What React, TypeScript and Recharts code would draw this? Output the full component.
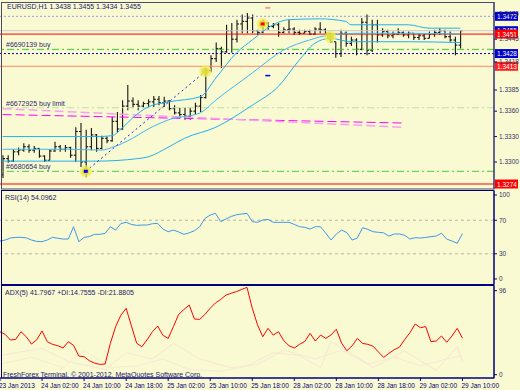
import React from "react";
import { ComposedChart, Bar, Line, Scatter, XAxis, YAxis, ReferenceLine } from "recharts";

// EURUSD H1, 23 Jan 18:00 .. 29 Jan 10:00
const highs = [
  1.3308, 1.3308, 1.3315, 1.3317, 1.3322, 1.3321, 1.3319, 1.3316, 1.3308, 1.3315,
  1.3324, 1.332, 1.332, 1.3318, 1.3341, 1.3346, 1.3338, 1.334, 1.3333, 1.3331,
  1.333, 1.3353, 1.3359, 1.3373, 1.3391, 1.3376, 1.3373, 1.3371, 1.3374, 1.3378,
  1.3378, 1.3377, 1.3373, 1.3367, 1.3364, 1.3364, 1.3364, 1.337, 1.3379, 1.3411,
  1.3426, 1.3441, 1.3436, 1.3462, 1.3464, 1.3468, 1.3474, 1.3476, 1.3474, 1.3456,
  1.3468, 1.3465, 1.3464, 1.3464, 1.3459, 1.3468, 1.3459, 1.3456, 1.3456, 1.3456,
  1.3459, 1.3465, 1.3458, 1.3452, 1.3442, 1.3456, 1.3454, 1.3448, 1.3446, 1.347,
  1.3474, 1.3468, 1.3468, 1.3458, 1.3456, 1.3454, 1.3458, 1.3454, 1.3454, 1.3452,
  1.3452, 1.3452, 1.3454, 1.3456, 1.3458, 1.3456, 1.3454, 1.3448, 1.3455,
];
const lows = [
  1.3281, 1.3299, 1.33, 1.3308, 1.3312, 1.3311, 1.3311, 1.3305, 1.33, 1.3302,
  1.3312, 1.3312, 1.3312, 1.3305, 1.33, 1.3294, 1.3282, 1.3314, 1.3312, 1.3315,
  1.3322, 1.3324, 1.3335, 1.3338, 1.3361, 1.3364, 1.3361, 1.3364, 1.3364, 1.3365,
  1.3367, 1.3365, 1.3361, 1.3356, 1.3352, 1.335, 1.335, 1.3356, 1.3359, 1.3375,
  1.3406, 1.3418, 1.3411, 1.3429, 1.3429, 1.3441, 1.3452, 1.3452, 1.3452, 1.345,
  1.3452, 1.3456, 1.3458, 1.3448, 1.3452, 1.3452, 1.345, 1.345, 1.3452, 1.345,
  1.345, 1.3452, 1.345, 1.3441, 1.3423, 1.3424, 1.3436, 1.3437, 1.3426, 1.3432,
  1.3426, 1.343, 1.3441, 1.3448, 1.3446, 1.3446, 1.345, 1.3448, 1.3446, 1.3444,
  1.3444, 1.3444, 1.3446, 1.3448, 1.345, 1.3446, 1.3442, 1.3426, 1.3434,
];
const opens = [
  1.3285, 1.3304, 1.3301, 1.3312, 1.3314, 1.3318, 1.3314, 1.3316, 1.3307, 1.3302,
  1.3313, 1.3318, 1.3315, 1.3317, 1.3308, 1.3336, 1.33, 1.3318, 1.3332, 1.3316,
  1.3328, 1.3325, 1.3348, 1.3339, 1.3366, 1.3372, 1.3368, 1.3366, 1.3369, 1.3371,
  1.3374, 1.337, 1.3372, 1.3363, 1.3358, 1.3356, 1.3354, 1.336, 1.3366, 1.3376,
  1.3408, 1.3422, 1.3434, 1.343, 1.3455, 1.3445, 1.3463, 1.3466, 1.347, 1.3455,
  1.3453, 1.3464, 1.346, 1.3462, 1.3453, 1.3456, 1.3457, 1.3453, 1.3452, 1.3454,
  1.3451, 1.3457, 1.3456, 1.3452, 1.3442, 1.3428, 1.3452, 1.344, 1.3444, 1.3433,
  1.3465, 1.3432, 1.3462, 1.345, 1.3454, 1.3449, 1.3451, 1.3453, 1.345, 1.3452,
  1.3447, 1.3449, 1.3446, 1.3451, 1.3453, 1.3455, 1.3448, 1.3444, 1.3438,
];
const closes = [
  1.3304, 1.3301, 1.3312, 1.3314, 1.3318, 1.3314, 1.3316, 1.3307, 1.3302, 1.3313,
  1.3318, 1.3315, 1.3317, 1.3308, 1.3336, 1.33, 1.3318, 1.3332, 1.3316, 1.3328,
  1.3325, 1.3348, 1.3339, 1.3366, 1.3372, 1.3368, 1.3366, 1.3369, 1.3371, 1.3374,
  1.337, 1.3372, 1.3363, 1.3358, 1.3356, 1.3354, 1.336, 1.3366, 1.3376, 1.3408,
  1.3422, 1.3434, 1.343, 1.3455, 1.3445, 1.3463, 1.3466, 1.347, 1.3455, 1.3453,
  1.3464, 1.346, 1.3462, 1.3453, 1.3456, 1.3457, 1.3453, 1.3452, 1.3454, 1.3451,
  1.3457, 1.3456, 1.3452, 1.3442, 1.3428, 1.3452, 1.344, 1.3444, 1.3433, 1.3465,
  1.3432, 1.3462, 1.345, 1.3454, 1.3449, 1.3451, 1.3453, 1.345, 1.3452, 1.3447,
  1.3449, 1.3446, 1.3451, 1.3453, 1.3455, 1.3448, 1.3444, 1.3438, 1.3455,
];

const rsi = [
  45.2, 46.4, 48.8, 49.6, 49.6, 49.0, 46.4, 44.8, 44.4, 46.5,
  49.6, 48.5, 47.6, 47.6, 62.3, 44.4, 49.6, 50.6, 53.2, 53.2,
  54.4, 62.3, 58.3, 66.0, 67.5, 65.0, 63.9, 64.2, 64.3, 65.8,
  66.3, 59.5, 56.3, 58.3, 56.0, 53.2, 55.0, 57.5, 62.3, 72.2,
  76.2, 78.2, 68.3, 71.5, 74.5, 76.5, 77.4, 78.2, 68.3, 67.5,
  70.2, 71.0, 67.5, 67.5, 67.5, 67.5, 65.0, 62.3, 61.5, 59.5,
  62.3, 62.3, 54.4, 46.4, 53.6, 58.3, 55.2, 46.4, 48.8, 61.1,
  59.1, 56.3, 55.6, 55.0, 51.2, 53.6, 53.6, 52.0, 47.6, 49.2,
  48.8, 49.5, 50.4, 51.2, 54.4, 47.6, 45.2, 42.5, 54.1,
];

const adx = [
  49.1, 46.0, 39.6, 40.4, 49.1, 43.4, 35.0, 40.0, 50.0, 37.7,
  34.7, 33.1, 30.5, 37.7, 33.5, 21.3, 20.6, 16.0, 13.2, 11.8,
  12.2, 35.8, 54.9, 68.0, 75.8, 56.0, 36.0, 32.0, 40.0, 49.1,
  55.6, 45.0, 41.5, 55.0, 69.0, 74.5, 79.6, 63.6, 63.2, 69.0,
  76.0, 82.0, 86.0, 91.0, 93.0, 95.0, 97.5, 99.8, 76.0, 57.0,
  43.4, 53.0, 45.3, 49.1, 38.9, 33.1, 30.5, 34.7, 38.0, 47.2,
  38.5, 45.3, 41.5, 45.5, 52.0, 36.0, 27.4, 33.0, 41.5, 35.8,
  34.7, 32.5, 26.0, 19.8, 24.4, 28.5, 31.5, 40.0, 48.0, 57.9,
  53.7, 55.0, 37.7, 38.5, 44.2, 37.0, 44.2, 53.0, 41.8,
];

// indicator lines read at a few bars: [bar index, value]
const bandUpper: [number, number][] = [
  [0, 1.333], [18, 1.333], [21, 1.3331], [23, 1.334], [25, 1.3352], [28, 1.3365],
  [32, 1.3371], [38, 1.3377], [41, 1.3399], [45, 1.3429], [48, 1.3444], [52, 1.3462],
  [55, 1.3468], [61, 1.3469], [66, 1.3466], [67, 1.3462], [78, 1.3462], [82, 1.3458], [88, 1.3458],
];
const bandMiddle: [number, number][] = [
  [0, 1.3315], [13, 1.3315], [19, 1.3314], [21, 1.3317], [25, 1.3328], [28, 1.3339],
  [32, 1.335], [38, 1.3358], [41, 1.3373], [48, 1.3405], [54, 1.3432], [59, 1.3444],
  [63, 1.345], [69, 1.3452], [78, 1.3452], [88, 1.3451],
];
const bandLower: [number, number][] = [
  [0, 1.3301], [18, 1.3301], [26, 1.3304], [28, 1.3306], [32, 1.3318], [35, 1.3328],
  [41, 1.3341], [48, 1.3367], [53, 1.3389], [57, 1.342], [60, 1.344], [63, 1.3446],
  [67, 1.3442], [78, 1.3442], [88, 1.3441],
];
const plusDi: [number, number][] = [
  [0, 22], [8, 30], [13, 15], [20, 6], [24, 25], [29, 18], [33, 36], [38, 18], [44, 8],
  [47, 10], [52, 25], [57, 22], [61, 8], [63, 38], [68, 20], [71, 8], [77, 27], [83, 5],
  [87, 32], [88, 14.8],
];
const minusDi: [number, number][] = [
  [0, 12], [6, 20], [12, 8], [16, 28], [21, 8], [26, 10], [31, 18], [36, 6], [42, 4],
  [49, 12], [54, 28], [60, 18], [65, 28], [70, 12], [75, 20], [80, 10], [85, 18], [88, 21.9],
];
// order history line and the two pending-order trend lines
const orderPath: [number, number][] = [[16, 1.3289], [39, 1.3407]];
const magentaA: [number, number][] = [[0, 1.3356], [77, 1.3346]];
const magentaB: [number, number][] = [[0, 1.3363], [77, 1.3341]];
const orderMarks: [number, number][] = [[16, 1.3289], [39, 1.3407], [50, 1.3463], [63, 1.3448]];

const xLabels = [
  "23 Jan 2013", "24 Jan 02:00", "24 Jan 10:00", "24 Jan 18:00", "25 Jan 02:00", "25 Jan 10:00",
  "25 Jan 18:00", "28 Jan 02:00", "28 Jan 10:00", "28 Jan 18:00", "29 Jan 02:00", "29 Jan 10:00",
];
const priceTicks = [1.33, 1.333, 1.336, 1.3385, 1.3418, 1.3445, 1.3475];

const BG = "#FAFAD2";
const NAVY = "#000080";
const FONT = "'Liberation Sans', Arial, sans-serif";
const SLOTS = 95; // bars plus empty space on the right

const pick = (pts: [number, number][], i: number) => {
  const hit = pts.find((p) => p[0] === i);
  return hit ? hit[1] : null;
};

const rows = Array.from({ length: SLOTS }, (_, i) => {
  const has = i < closes.length;
  return {
    i,
    high: has ? highs[i] : null,
    low: has ? lows[i] : null,
    open: has ? opens[i] : null,
    close: has ? closes[i] : null,
    rsi: has ? rsi[i] : null,
    adx: has ? adx[i] : null,
    up: pick(bandUpper, i),
    mid: pick(bandMiddle, i),
    dn: pick(bandLower, i),
    pdi: pick(plusDi, i),
    mdi: pick(minusDi, i),
    path: pick(orderPath, i),
    magA: pick(magentaA, i),
    magB: pick(magentaB, i),
    mark: pick(orderMarks, i),
    redArrow: i === 50 ? 1.3463 : null,
    blueArrow: i === 16 ? 1.3289 : null,
    blueDash: i === 51 ? 1.3402 : null,
    pinkDash: i === 51 ? 1.3482 : null,
  };
});

function OhlcBar(props: any) {
  const { x, y, width, height, payload } = props;
  if (payload.high == null || height == null) return <g />;
  const top = Math.min(y, y + height);
  const h = Math.abs(height);
  const cx = x + width / 2;
  const span = payload.high - payload.low || 1;
  const py = (v: number) => top + ((payload.high - v) / span) * h;
  return (
    <g stroke="#141414" strokeWidth={1.1}>
      <line x1={cx} y1={top} x2={cx} y2={top + h} />
      <line x1={cx - 2} y1={py(payload.open)} x2={cx} y2={py(payload.open)} />
      <line x1={cx} y1={py(payload.close)} x2={cx + 2} y2={py(payload.close)} />
    </g>
  );
}

const dotShape = (draw: (cx: number, cy: number) => React.ReactElement) => (props: any) => {
  const { cx, cy } = props;
  if (cx == null || cy == null || isNaN(cy)) return <g />;
  return draw(cx, cy);
};

const priceTag = (value: number, color: string) => (props: any) => {
  const { viewBox } = props;
  const x = viewBox.x + viewBox.width + 1;
  const y = viewBox.y;
  return (
    <g>
      <rect x={x} y={y - 4.5} width={23} height={9} fill={color} />
      <text x={x + 2} y={y + 2.5} fill="#fff" fontSize={6.5} fontFamily={FONT}>
        {value.toFixed(4)}
      </text>
    </g>
  );
};

const orderLabel = (text: string) => (props: any) => {
  const { viewBox } = props;
  return (
    <text x={viewBox.x + 6} y={viewBox.y - 2} fill="#2a2a70" fontSize={7} fontFamily={FONT}>
      {text}
    </text>
  );
};

function XTick(props: any) {
  const { x, y, payload } = props;
  return (
    <text x={x - 1} y={y + 7} fill={NAVY} fontSize={6.5} fontFamily={FONT}>
      {xLabels[payload.value / 8]}
    </text>
  );
}

const rightAxis = {
  orientation: "right" as const,
  width: 26,
  axisLine: { stroke: NAVY },
  tickLine: { stroke: NAVY },
  tickSize: 3,
  tickMargin: 2,
  interval: 0 as const,
  allowDataOverflow: true,
  tick: { fontSize: 6.5, fill: "#333366", fontFamily: FONT },
};

export default function App() {
  return (
    <div style={{ position: "absolute", left: 0, top: 0, width: 520, height: 390, background: BG, overflow: "hidden" }}>
      <div style={{ position: "absolute", left: 0, top: 0 }}>
        <ComposedChart width={520} height={190} data={rows} margin={{ top: 2, right: 0, bottom: 1, left: 0 }}>
          <XAxis dataKey="i" type="category" hide />
          <YAxis
            {...rightAxis}
            domain={[1.32681, 1.34889]}
            ticks={priceTicks}
            tickFormatter={(v: number) => v.toFixed(4)}
          />
          <ReferenceLine y={1.3472} stroke="#9C9CE0" strokeDasharray="2 2" label={priceTag(1.3472, "#0000CC")} />
          <ReferenceLine y={1.3455} stroke="#C8C8C8" label={priceTag(1.3455, "#0000CC")} />
          <ReferenceLine y={1.3451} stroke="#FF0000" label={priceTag(1.3451, "#FF0000")} />
          <ReferenceLine y={1.3433} stroke="#33CC33" strokeDasharray="7 3 2 3" label={orderLabel("#6690139 buy")} />
          <ReferenceLine y={1.3428} stroke="#0000AA" strokeDasharray="2 2" label={priceTag(1.3428, "#0000CC")} />
          <ReferenceLine y={1.3413} stroke="#FF8866" label={priceTag(1.3413, "#FF2020")} />
          <ReferenceLine y={1.3364} stroke="#B8E0A8" strokeDasharray="7 3 2 3" label={orderLabel("#6672925 buy limit")} />
          <ReferenceLine y={1.3289} stroke="#44CC44" strokeDasharray="7 3 2 3" label={orderLabel("#6680654 buy")} />
          <ReferenceLine y={1.3274} stroke="#FF0000" label={priceTag(1.3274, "#FF0000")} />
          <Line dataKey="magA" stroke="#FF00FF" strokeDasharray="9 4" connectNulls dot={false} isAnimationActive={false} />
          <Line dataKey="magB" stroke="#F8A0F0" strokeWidth={1.5} strokeDasharray="9 4" connectNulls dot={false} isAnimationActive={false} />
          <Line dataKey="up" type="monotone" stroke="#20B0F0" connectNulls dot={false} isAnimationActive={false} />
          <Line dataKey="mid" type="monotone" stroke="#40B8F0" connectNulls dot={false} isAnimationActive={false} />
          <Line dataKey="dn" type="monotone" stroke="#20B0F0" connectNulls dot={false} isAnimationActive={false} />
          <Line dataKey="path" stroke="#2020DD" strokeDasharray="2 3" connectNulls dot={false} isAnimationActive={false} />
          <Bar
            dataKey={(r: any) => (r.high == null ? null : [r.low, r.high])}
            barSize={4}
            shape={OhlcBar}
            isAnimationActive={false}
          />
          <Scatter
            dataKey="mark"
            isAnimationActive={false}
            shape={dotShape((cx, cy) => (
              <g>
                <circle cx={cx} cy={cy} r={6} fill="#EEEE55" fillOpacity={0.75} />
                <circle cx={cx} cy={cy} r={3.5} fill="#E2D838" fillOpacity={0.8} />
              </g>
            ))}
          />
          <Scatter
            dataKey="redArrow"
            isAnimationActive={false}
            shape={dotShape((cx, cy) => <rect x={cx - 2} y={cy - 1.5} width={4} height={3} fill="#FF0000" />)}
          />
          <Scatter
            dataKey="blueArrow"
            isAnimationActive={false}
            shape={dotShape((cx, cy) => <rect x={cx - 2} y={cy - 1.5} width={4} height={3} fill="#0000FF" />)}
          />
          <Scatter
            dataKey="blueDash"
            isAnimationActive={false}
            shape={dotShape((cx, cy) => <rect x={cx - 2.5} y={cy - 0.75} width={5} height={1.5} fill="#0000EE" />)}
          />
          <Scatter
            dataKey="pinkDash"
            isAnimationActive={false}
            shape={dotShape((cx, cy) => <rect x={cx - 2.5} y={cy - 1} width={5} height={2} fill="#F0A090" />)}
          />
        </ComposedChart>
      </div>

      <div style={{ position: "absolute", left: 0, top: 189 }}>
        <ComposedChart width={520} height={96} data={rows} margin={{ top: 2, right: 0, bottom: 1, left: 0 }}>
          <XAxis dataKey="i" type="category" hide />
          <YAxis {...rightAxis} domain={[-5.95, 104.8]} ticks={[0, 30, 70, 100]} />
          <ReferenceLine y={70} stroke="#B8B8A8" strokeDasharray="3 3" />
          <ReferenceLine y={30} stroke="#B8B8A8" strokeDasharray="3 3" />
          <Line dataKey="rsi" stroke="#3D98EC" dot={false} isAnimationActive={false} />
        </ComposedChart>
      </div>

      <div style={{ position: "absolute", left: 0, top: 284 }}>
        <ComposedChart width={520} height={106} data={rows} margin={{ top: 2, right: 0, bottom: 0, left: 0 }}>
          <XAxis
            dataKey="i"
            type="category"
            height={12}
            interval={7}
            axisLine={{ stroke: NAVY }}
            tickLine={{ stroke: NAVY }}
            tickSize={3}
            tickMargin={0}
            tick={XTick}
          />
          <YAxis {...rightAxis} domain={[-3.77, 101.37]} ticks={[0, 96]} />
          <Line dataKey="pdi" stroke="#F6E4D6" connectNulls dot={false} isAnimationActive={false} />
          <Line dataKey="mdi" stroke="#F4EAD4" connectNulls dot={false} isAnimationActive={false} />
          <Line dataKey="adx" stroke="#FF0000" dot={false} isAnimationActive={false} />
        </ComposedChart>
      </div>

      <svg width={520} height={390} style={{ position: "absolute", left: 0, top: 0, pointerEvents: "none" }}>
        <rect x={1.5} y={2.5} width={492.5} height={186.5} fill="none" stroke="#4A4A70" />
        <rect x={1.5} y={190.5} width={492.5} height={94} fill="none" stroke={NAVY} />
        <rect x={1.5} y={285.5} width={492.5} height={92.5} fill="none" stroke={NAVY} />
        <g fontFamily={FONT} fontSize={7} fill="#1a1a66">
          <text x={7} y={9}>EURUSD,H1  1.3438 1.3455 1.3434 1.3455</text>
          <text x={5} y={199.5}>RSI(14) 54.0962</text>
          <text x={5} y={295}>ADX(5) 41.7967 +DI:14.7555 -DI:21.8805</text>
          <text x={3} y={376.5}>FreshForex Terminal, © 2001-2012, MetaQuotes Software Corp.</text>
        </g>
      </svg>
    </div>
  );
}
